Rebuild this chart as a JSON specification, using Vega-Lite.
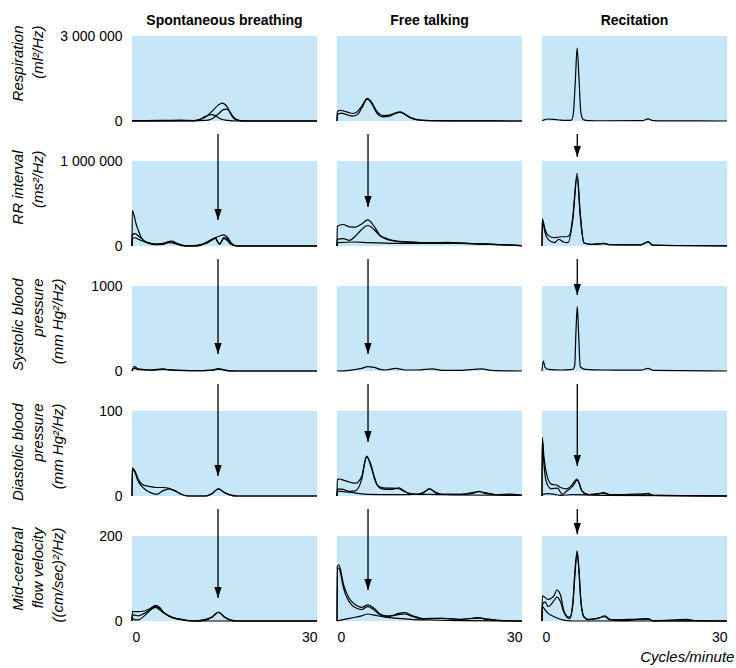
{
"$schema":"https://vega.github.io/schema/vega-lite/v6.json",
"padding":{"top":14,"left":10,"right":5,"bottom":5},
"background":"white",
"datasets":{"d":[
{"k":"b","m":"resp","c":"S","x":0,"x2":30,"y":0,"y2":3000000},
{"k":"b","m":"resp","c":"F","x":0,"x2":30,"y":0,"y2":3000000},
{"k":"b","m":"resp","c":"R","x":0,"x2":30,"y":0,"y2":3000000},
{"k":"b","m":"rr","c":"S","x":0,"x2":30,"y":0,"y2":1000000},
{"k":"b","m":"rr","c":"F","x":0,"x2":30,"y":0,"y2":1000000},
{"k":"b","m":"rr","c":"R","x":0,"x2":30,"y":0,"y2":1000000},
{"k":"b","m":"sys","c":"S","x":0,"x2":30,"y":0,"y2":1000},
{"k":"b","m":"sys","c":"F","x":0,"x2":30,"y":0,"y2":1000},
{"k":"b","m":"sys","c":"R","x":0,"x2":30,"y":0,"y2":1000},
{"k":"b","m":"dia","c":"S","x":0,"x2":30,"y":0,"y2":100},
{"k":"b","m":"dia","c":"F","x":0,"x2":30,"y":0,"y2":100},
{"k":"b","m":"dia","c":"R","x":0,"x2":30,"y":0,"y2":100},
{"k":"b","m":"mca","c":"S","x":0,"x2":30,"y":0,"y2":200},
{"k":"b","m":"mca","c":"F","x":0,"x2":30,"y":0,"y2":200},
{"k":"b","m":"mca","c":"R","x":0,"x2":30,"y":0,"y2":200},
{"k":"a","m":"rr","c":"S","x":13.95,"y":306000,"y2":1317647},
{"k":"a","m":"rr","c":"F","x":5.03,"y":459000,"y2":1317647},
{"k":"a","m":"rr","c":"R","x":5.72,"y":1047000,"y2":1317647},
{"k":"a","m":"sys","c":"S","x":13.95,"y":200,"y2":1317.65},
{"k":"a","m":"sys","c":"F","x":5.03,"y":200,"y2":1317.65},
{"k":"a","m":"sys","c":"R","x":5.72,"y":894,"y2":1317.65},
{"k":"a","m":"dia","c":"S","x":13.95,"y":23.5,"y2":131.765},
{"k":"a","m":"dia","c":"F","x":5.03,"y":63.5,"y2":131.765},
{"k":"a","m":"dia","c":"R","x":5.72,"y":35.3,"y2":131.765},
{"k":"a","m":"mca","c":"S","x":13.95,"y":54,"y2":263.53},
{"k":"a","m":"mca","c":"F","x":5.03,"y":73,"y2":263.53},
{"k":"a","m":"mca","c":"R","x":5.72,"y":205,"y2":263.53},

{"k":"l","m":"resp","c":"S","s":"a","x":0,"y":10000},{"k":"l","m":"resp","c":"S","s":"a","x":2,"y":15000},{"k":"l","m":"resp","c":"S","s":"a","x":5,"y":20000},{"k":"l","m":"resp","c":"S","s":"a","x":8,"y":30000},{"k":"l","m":"resp","c":"S","s":"a","x":9,"y":20000},{"k":"l","m":"resp","c":"S","s":"a","x":10,"y":15000},{"k":"l","m":"resp","c":"S","s":"a","x":11,"y":50000},{"k":"l","m":"resp","c":"S","s":"a","x":12,"y":150000},{"k":"l","m":"resp","c":"S","s":"a","x":13,"y":350000},{"k":"l","m":"resp","c":"S","s":"a","x":14,"y":560000},{"k":"l","m":"resp","c":"S","s":"a","x":14.6,"y":633000},{"k":"l","m":"resp","c":"S","s":"a","x":15,"y":600000},{"k":"l","m":"resp","c":"S","s":"a","x":15.5,"y":470000},{"k":"l","m":"resp","c":"S","s":"a","x":16,"y":250000},{"k":"l","m":"resp","c":"S","s":"a","x":16.5,"y":90000},{"k":"l","m":"resp","c":"S","s":"a","x":17,"y":30000},{"k":"l","m":"resp","c":"S","s":"a","x":18,"y":5000},{"k":"l","m":"resp","c":"S","s":"a","x":20,"y":0},{"k":"l","m":"resp","c":"S","s":"a","x":30,"y":0},
{"k":"l","m":"resp","c":"S","s":"b","x":0,"y":5000},{"k":"l","m":"resp","c":"S","s":"b","x":10,"y":5000},{"k":"l","m":"resp","c":"S","s":"b","x":12,"y":20000},{"k":"l","m":"resp","c":"S","s":"b","x":13,"y":80000},{"k":"l","m":"resp","c":"S","s":"b","x":14,"y":250000},{"k":"l","m":"resp","c":"S","s":"b","x":14.8,"y":400000},{"k":"l","m":"resp","c":"S","s":"b","x":15.3,"y":422000},{"k":"l","m":"resp","c":"S","s":"b","x":15.8,"y":350000},{"k":"l","m":"resp","c":"S","s":"b","x":16.3,"y":180000},{"k":"l","m":"resp","c":"S","s":"b","x":17,"y":50000},{"k":"l","m":"resp","c":"S","s":"b","x":17.5,"y":15000},{"k":"l","m":"resp","c":"S","s":"b","x":18.5,"y":0},{"k":"l","m":"resp","c":"S","s":"b","x":30,"y":0},
{"k":"l","m":"resp","c":"S","s":"c","x":0,"y":5000},{"k":"l","m":"resp","c":"S","s":"c","x":10,"y":10000},{"k":"l","m":"resp","c":"S","s":"c","x":11,"y":60000},{"k":"l","m":"resp","c":"S","s":"c","x":12,"y":170000},{"k":"l","m":"resp","c":"S","s":"c","x":12.9,"y":223000},{"k":"l","m":"resp","c":"S","s":"c","x":13.5,"y":190000},{"k":"l","m":"resp","c":"S","s":"c","x":14,"y":120000},{"k":"l","m":"resp","c":"S","s":"c","x":14.5,"y":60000},{"k":"l","m":"resp","c":"S","s":"c","x":15.5,"y":20000},{"k":"l","m":"resp","c":"S","s":"c","x":17,"y":0},{"k":"l","m":"resp","c":"S","s":"c","x":30,"y":0},

{"k":"l","m":"resp","c":"F","s":"a","x":0,"y":0},{"k":"l","m":"resp","c":"F","s":"a","x":0.05,"y":330000},{"k":"l","m":"resp","c":"F","s":"a","x":0.5,"y":375000},{"k":"l","m":"resp","c":"F","s":"a","x":1,"y":360000},{"k":"l","m":"resp","c":"F","s":"a","x":2,"y":290000},{"k":"l","m":"resp","c":"F","s":"a","x":2.5,"y":265000},{"k":"l","m":"resp","c":"F","s":"a","x":3,"y":290000},{"k":"l","m":"resp","c":"F","s":"a","x":4,"y":520000},{"k":"l","m":"resp","c":"F","s":"a","x":4.9,"y":800000},{"k":"l","m":"resp","c":"F","s":"a","x":5.5,"y":700000},{"k":"l","m":"resp","c":"F","s":"a","x":6.5,"y":330000},{"k":"l","m":"resp","c":"F","s":"a","x":7.5,"y":195000},{"k":"l","m":"resp","c":"F","s":"a","x":8.5,"y":210000},{"k":"l","m":"resp","c":"F","s":"a","x":9.5,"y":290000},{"k":"l","m":"resp","c":"F","s":"a","x":10.2,"y":320000},{"k":"l","m":"resp","c":"F","s":"a","x":11,"y":250000},{"k":"l","m":"resp","c":"F","s":"a","x":12,"y":120000},{"k":"l","m":"resp","c":"F","s":"a","x":13,"y":50000},{"k":"l","m":"resp","c":"F","s":"a","x":15,"y":15000},{"k":"l","m":"resp","c":"F","s":"a","x":20,"y":4000},{"k":"l","m":"resp","c":"F","s":"a","x":30,"y":0},
{"k":"l","m":"resp","c":"F","s":"b","x":0,"y":0},{"k":"l","m":"resp","c":"F","s":"b","x":0.05,"y":220000},{"k":"l","m":"resp","c":"F","s":"b","x":0.7,"y":280000},{"k":"l","m":"resp","c":"F","s":"b","x":1.5,"y":230000},{"k":"l","m":"resp","c":"F","s":"b","x":2.5,"y":170000},{"k":"l","m":"resp","c":"F","s":"b","x":3.3,"y":230000},{"k":"l","m":"resp","c":"F","s":"b","x":4,"y":450000},{"k":"l","m":"resp","c":"F","s":"b","x":4.9,"y":770000},{"k":"l","m":"resp","c":"F","s":"b","x":5.5,"y":660000},{"k":"l","m":"resp","c":"F","s":"b","x":6.5,"y":270000},{"k":"l","m":"resp","c":"F","s":"b","x":7.5,"y":145000},{"k":"l","m":"resp","c":"F","s":"b","x":8.5,"y":170000},{"k":"l","m":"resp","c":"F","s":"b","x":9.5,"y":270000},{"k":"l","m":"resp","c":"F","s":"b","x":10.2,"y":305000},{"k":"l","m":"resp","c":"F","s":"b","x":11,"y":235000},{"k":"l","m":"resp","c":"F","s":"b","x":12,"y":100000},{"k":"l","m":"resp","c":"F","s":"b","x":13,"y":40000},{"k":"l","m":"resp","c":"F","s":"b","x":15,"y":10000},{"k":"l","m":"resp","c":"F","s":"b","x":20,"y":3000},{"k":"l","m":"resp","c":"F","s":"b","x":30,"y":0},

{"k":"l","m":"resp","c":"R","s":"a","x":0,"y":15000},{"k":"l","m":"resp","c":"R","s":"a","x":0.5,"y":50000},{"k":"l","m":"resp","c":"R","s":"a","x":1,"y":70000},{"k":"l","m":"resp","c":"R","s":"a","x":2,"y":55000},{"k":"l","m":"resp","c":"R","s":"a","x":3,"y":30000},{"k":"l","m":"resp","c":"R","s":"a","x":4,"y":20000},{"k":"l","m":"resp","c":"R","s":"a","x":4.8,"y":30000},{"k":"l","m":"resp","c":"R","s":"a","x":5.1,"y":300000},{"k":"l","m":"resp","c":"R","s":"a","x":5.4,"y":1400000},{"k":"l","m":"resp","c":"R","s":"a","x":5.7,"y":2570000},{"k":"l","m":"resp","c":"R","s":"a","x":6,"y":1500000},{"k":"l","m":"resp","c":"R","s":"a","x":6.3,"y":300000},{"k":"l","m":"resp","c":"R","s":"a","x":6.7,"y":50000},{"k":"l","m":"resp","c":"R","s":"a","x":7.5,"y":15000},{"k":"l","m":"resp","c":"R","s":"a","x":10,"y":8000},{"k":"l","m":"resp","c":"R","s":"a","x":16.3,"y":10000},{"k":"l","m":"resp","c":"R","s":"a","x":17.2,"y":75000},{"k":"l","m":"resp","c":"R","s":"a","x":18,"y":10000},{"k":"l","m":"resp","c":"R","s":"a","x":20,"y":3000},{"k":"l","m":"resp","c":"R","s":"a","x":30,"y":0},

{"k":"l","m":"rr","c":"S","s":"a","x":0,"y":0},{"k":"l","m":"rr","c":"S","s":"a","x":0.05,"y":416000},{"k":"l","m":"rr","c":"S","s":"a","x":0.3,"y":370000},{"k":"l","m":"rr","c":"S","s":"a","x":0.7,"y":250000},{"k":"l","m":"rr","c":"S","s":"a","x":1,"y":190000},{"k":"l","m":"rr","c":"S","s":"a","x":1.5,"y":100000},{"k":"l","m":"rr","c":"S","s":"a","x":2,"y":60000},{"k":"l","m":"rr","c":"S","s":"a","x":3,"y":30000},{"k":"l","m":"rr","c":"S","s":"a","x":4,"y":22000},{"k":"l","m":"rr","c":"S","s":"a","x":5,"y":30000},{"k":"l","m":"rr","c":"S","s":"a","x":6,"y":52000},{"k":"l","m":"rr","c":"S","s":"a","x":6.5,"y":58000},{"k":"l","m":"rr","c":"S","s":"a","x":7,"y":42000},{"k":"l","m":"rr","c":"S","s":"a","x":8,"y":12000},{"k":"l","m":"rr","c":"S","s":"a","x":9,"y":2000},{"k":"l","m":"rr","c":"S","s":"a","x":10,"y":0},{"k":"l","m":"rr","c":"S","s":"a","x":11,"y":8000},{"k":"l","m":"rr","c":"S","s":"a","x":12,"y":40000},{"k":"l","m":"rr","c":"S","s":"a","x":13,"y":80000},{"k":"l","m":"rr","c":"S","s":"a","x":14,"y":112000},{"k":"l","m":"rr","c":"S","s":"a","x":14.9,"y":132000},{"k":"l","m":"rr","c":"S","s":"a","x":15.5,"y":100000},{"k":"l","m":"rr","c":"S","s":"a","x":16,"y":45000},{"k":"l","m":"rr","c":"S","s":"a","x":16.5,"y":12000},{"k":"l","m":"rr","c":"S","s":"a","x":17,"y":0},{"k":"l","m":"rr","c":"S","s":"a","x":30,"y":0},
{"k":"l","m":"rr","c":"S","s":"b","x":0,"y":0},{"k":"l","m":"rr","c":"S","s":"b","x":0.05,"y":130000},{"k":"l","m":"rr","c":"S","s":"b","x":0.5,"y":145000},{"k":"l","m":"rr","c":"S","s":"b","x":1,"y":120000},{"k":"l","m":"rr","c":"S","s":"b","x":2,"y":60000},{"k":"l","m":"rr","c":"S","s":"b","x":3,"y":30000},{"k":"l","m":"rr","c":"S","s":"b","x":4,"y":20000},{"k":"l","m":"rr","c":"S","s":"b","x":5,"y":25000},{"k":"l","m":"rr","c":"S","s":"b","x":6,"y":45000},{"k":"l","m":"rr","c":"S","s":"b","x":6.5,"y":50000},{"k":"l","m":"rr","c":"S","s":"b","x":7,"y":35000},{"k":"l","m":"rr","c":"S","s":"b","x":8,"y":10000},{"k":"l","m":"rr","c":"S","s":"b","x":9,"y":0},{"k":"l","m":"rr","c":"S","s":"b","x":11,"y":5000},{"k":"l","m":"rr","c":"S","s":"b","x":12,"y":40000},{"k":"l","m":"rr","c":"S","s":"b","x":13,"y":80000},{"k":"l","m":"rr","c":"S","s":"b","x":13.5,"y":95000},{"k":"l","m":"rr","c":"S","s":"b","x":14.2,"y":25000},{"k":"l","m":"rr","c":"S","s":"b","x":14.9,"y":100000},{"k":"l","m":"rr","c":"S","s":"b","x":15.5,"y":80000},{"k":"l","m":"rr","c":"S","s":"b","x":16,"y":30000},{"k":"l","m":"rr","c":"S","s":"b","x":17,"y":0},{"k":"l","m":"rr","c":"S","s":"b","x":30,"y":0},
{"k":"l","m":"rr","c":"S","s":"c","x":0,"y":0},{"k":"l","m":"rr","c":"S","s":"c","x":0.05,"y":90000},{"k":"l","m":"rr","c":"S","s":"c","x":0.5,"y":97000},{"k":"l","m":"rr","c":"S","s":"c","x":1,"y":80000},{"k":"l","m":"rr","c":"S","s":"c","x":2,"y":50000},{"k":"l","m":"rr","c":"S","s":"c","x":3,"y":25000},{"k":"l","m":"rr","c":"S","s":"c","x":4,"y":15000},{"k":"l","m":"rr","c":"S","s":"c","x":5,"y":20000},{"k":"l","m":"rr","c":"S","s":"c","x":6,"y":38000},{"k":"l","m":"rr","c":"S","s":"c","x":7,"y":28000},{"k":"l","m":"rr","c":"S","s":"c","x":8,"y":5000},{"k":"l","m":"rr","c":"S","s":"c","x":9,"y":0},{"k":"l","m":"rr","c":"S","s":"c","x":12,"y":30000},{"k":"l","m":"rr","c":"S","s":"c","x":13,"y":70000},{"k":"l","m":"rr","c":"S","s":"c","x":13.5,"y":88000},{"k":"l","m":"rr","c":"S","s":"c","x":14.2,"y":20000},{"k":"l","m":"rr","c":"S","s":"c","x":14.9,"y":90000},{"k":"l","m":"rr","c":"S","s":"c","x":15.5,"y":60000},{"k":"l","m":"rr","c":"S","s":"c","x":16,"y":20000},{"k":"l","m":"rr","c":"S","s":"c","x":17,"y":0},{"k":"l","m":"rr","c":"S","s":"c","x":30,"y":0},

{"k":"l","m":"rr","c":"F","s":"a","x":0,"y":0},{"k":"l","m":"rr","c":"F","s":"a","x":0.05,"y":233000},{"k":"l","m":"rr","c":"F","s":"a","x":1,"y":253000},{"k":"l","m":"rr","c":"F","s":"a","x":2,"y":226000},{"k":"l","m":"rr","c":"F","s":"a","x":3,"y":222000},{"k":"l","m":"rr","c":"F","s":"a","x":4,"y":260000},{"k":"l","m":"rr","c":"F","s":"a","x":5,"y":307000},{"k":"l","m":"rr","c":"F","s":"a","x":6,"y":233000},{"k":"l","m":"rr","c":"F","s":"a","x":7,"y":125000},{"k":"l","m":"rr","c":"F","s":"a","x":8,"y":90000},{"k":"l","m":"rr","c":"F","s":"a","x":9,"y":66000},{"k":"l","m":"rr","c":"F","s":"a","x":10,"y":54000},{"k":"l","m":"rr","c":"F","s":"a","x":12,"y":47000},{"k":"l","m":"rr","c":"F","s":"a","x":15,"y":39000},{"k":"l","m":"rr","c":"F","s":"a","x":18,"y":42000},{"k":"l","m":"rr","c":"F","s":"a","x":20,"y":35000},{"k":"l","m":"rr","c":"F","s":"a","x":25,"y":20000},{"k":"l","m":"rr","c":"F","s":"a","x":30,"y":4000},
{"k":"l","m":"rr","c":"F","s":"b","x":0,"y":0},{"k":"l","m":"rr","c":"F","s":"b","x":0.05,"y":78000},{"k":"l","m":"rr","c":"F","s":"b","x":1,"y":86000},{"k":"l","m":"rr","c":"F","s":"b","x":2,"y":66000},{"k":"l","m":"rr","c":"F","s":"b","x":3,"y":117000},{"k":"l","m":"rr","c":"F","s":"b","x":4,"y":195000},{"k":"l","m":"rr","c":"F","s":"b","x":5,"y":241000},{"k":"l","m":"rr","c":"F","s":"b","x":6,"y":195000},{"k":"l","m":"rr","c":"F","s":"b","x":7,"y":117000},{"k":"l","m":"rr","c":"F","s":"b","x":8,"y":80000},{"k":"l","m":"rr","c":"F","s":"b","x":9,"y":62000},{"k":"l","m":"rr","c":"F","s":"b","x":10,"y":52000},{"k":"l","m":"rr","c":"F","s":"b","x":12,"y":45000},{"k":"l","m":"rr","c":"F","s":"b","x":15,"y":37000},{"k":"l","m":"rr","c":"F","s":"b","x":18,"y":40000},{"k":"l","m":"rr","c":"F","s":"b","x":20,"y":33000},{"k":"l","m":"rr","c":"F","s":"b","x":25,"y":18000},{"k":"l","m":"rr","c":"F","s":"b","x":30,"y":3000},
{"k":"l","m":"rr","c":"F","s":"c","x":0,"y":0},{"k":"l","m":"rr","c":"F","s":"c","x":0.05,"y":39000},{"k":"l","m":"rr","c":"F","s":"c","x":3,"y":47000},{"k":"l","m":"rr","c":"F","s":"c","x":5,"y":40000},{"k":"l","m":"rr","c":"F","s":"c","x":10,"y":31000},{"k":"l","m":"rr","c":"F","s":"c","x":20,"y":31000},{"k":"l","m":"rr","c":"F","s":"c","x":30,"y":4000},

{"k":"l","m":"rr","c":"R","s":"a","x":0,"y":0},{"k":"l","m":"rr","c":"R","s":"a","x":0.05,"y":319000},{"k":"l","m":"rr","c":"R","s":"a","x":0.5,"y":195000},{"k":"l","m":"rr","c":"R","s":"a","x":1,"y":125000},{"k":"l","m":"rr","c":"R","s":"a","x":2,"y":97000},{"k":"l","m":"rr","c":"R","s":"a","x":3,"y":109000},{"k":"l","m":"rr","c":"R","s":"a","x":4,"y":109000},{"k":"l","m":"rr","c":"R","s":"a","x":4.5,"y":130000},{"k":"l","m":"rr","c":"R","s":"a","x":5,"y":350000},{"k":"l","m":"rr","c":"R","s":"a","x":5.7,"y":856000},{"k":"l","m":"rr","c":"R","s":"a","x":6.2,"y":389000},{"k":"l","m":"rr","c":"R","s":"a","x":6.8,"y":39000},{"k":"l","m":"rr","c":"R","s":"a","x":8,"y":20000},{"k":"l","m":"rr","c":"R","s":"a","x":10,"y":31000},{"k":"l","m":"rr","c":"R","s":"a","x":11,"y":16000},{"k":"l","m":"rr","c":"R","s":"a","x":13,"y":14000},{"k":"l","m":"rr","c":"R","s":"a","x":16,"y":14000},{"k":"l","m":"rr","c":"R","s":"a","x":17.2,"y":51000},{"k":"l","m":"rr","c":"R","s":"a","x":18,"y":10000},{"k":"l","m":"rr","c":"R","s":"a","x":22,"y":5000},{"k":"l","m":"rr","c":"R","s":"a","x":30,"y":2000},
{"k":"l","m":"rr","c":"R","s":"b","x":0,"y":0},{"k":"l","m":"rr","c":"R","s":"b","x":0.05,"y":292000},{"k":"l","m":"rr","c":"R","s":"b","x":0.5,"y":156000},{"k":"l","m":"rr","c":"R","s":"b","x":1,"y":78000},{"k":"l","m":"rr","c":"R","s":"b","x":2,"y":39000},{"k":"l","m":"rr","c":"R","s":"b","x":2.7,"y":78000},{"k":"l","m":"rr","c":"R","s":"b","x":3.5,"y":47000},{"k":"l","m":"rr","c":"R","s":"b","x":4.2,"y":39000},{"k":"l","m":"rr","c":"R","s":"b","x":5,"y":311000},{"k":"l","m":"rr","c":"R","s":"b","x":5.7,"y":817000},{"k":"l","m":"rr","c":"R","s":"b","x":6.2,"y":350000},{"k":"l","m":"rr","c":"R","s":"b","x":6.8,"y":35000},{"k":"l","m":"rr","c":"R","s":"b","x":8,"y":18000},{"k":"l","m":"rr","c":"R","s":"b","x":10,"y":28000},{"k":"l","m":"rr","c":"R","s":"b","x":11,"y":15000},{"k":"l","m":"rr","c":"R","s":"b","x":16,"y":13000},{"k":"l","m":"rr","c":"R","s":"b","x":17.2,"y":45000},{"k":"l","m":"rr","c":"R","s":"b","x":18,"y":9000},{"k":"l","m":"rr","c":"R","s":"b","x":30,"y":2000},

{"k":"l","m":"sys","c":"S","s":"a","x":0,"y":0},{"k":"l","m":"sys","c":"S","s":"a","x":0.1,"y":25},{"k":"l","m":"sys","c":"S","s":"a","x":0.4,"y":51},{"k":"l","m":"sys","c":"S","s":"a","x":1,"y":25},{"k":"l","m":"sys","c":"S","s":"a","x":3,"y":12},{"k":"l","m":"sys","c":"S","s":"a","x":5,"y":24},{"k":"l","m":"sys","c":"S","s":"a","x":6,"y":14},{"k":"l","m":"sys","c":"S","s":"a","x":8,"y":8},{"k":"l","m":"sys","c":"S","s":"a","x":10,"y":4},{"k":"l","m":"sys","c":"S","s":"a","x":13,"y":10},{"k":"l","m":"sys","c":"S","s":"a","x":14,"y":27},{"k":"l","m":"sys","c":"S","s":"a","x":15,"y":12},{"k":"l","m":"sys","c":"S","s":"a","x":16,"y":2},{"k":"l","m":"sys","c":"S","s":"a","x":18,"y":0},{"k":"l","m":"sys","c":"S","s":"a","x":30,"y":0},
{"k":"l","m":"sys","c":"S","s":"b","x":0,"y":0},{"k":"l","m":"sys","c":"S","s":"b","x":0.1,"y":20},{"k":"l","m":"sys","c":"S","s":"b","x":0.5,"y":30},{"k":"l","m":"sys","c":"S","s":"b","x":1,"y":15},{"k":"l","m":"sys","c":"S","s":"b","x":3,"y":10},{"k":"l","m":"sys","c":"S","s":"b","x":5,"y":18},{"k":"l","m":"sys","c":"S","s":"b","x":7,"y":8},{"k":"l","m":"sys","c":"S","s":"b","x":10,"y":3},{"k":"l","m":"sys","c":"S","s":"b","x":13,"y":8},{"k":"l","m":"sys","c":"S","s":"b","x":14,"y":22},{"k":"l","m":"sys","c":"S","s":"b","x":15,"y":8},{"k":"l","m":"sys","c":"S","s":"b","x":16,"y":0},{"k":"l","m":"sys","c":"S","s":"b","x":30,"y":0},

{"k":"l","m":"sys","c":"F","s":"a","x":0,"y":0},{"k":"l","m":"sys","c":"F","s":"a","x":2,"y":8},{"k":"l","m":"sys","c":"F","s":"a","x":4,"y":31},{"k":"l","m":"sys","c":"F","s":"a","x":5,"y":51},{"k":"l","m":"sys","c":"F","s":"a","x":6,"y":43},{"k":"l","m":"sys","c":"F","s":"a","x":7,"y":20},{"k":"l","m":"sys","c":"F","s":"a","x":8,"y":12},{"k":"l","m":"sys","c":"F","s":"a","x":9.5,"y":31},{"k":"l","m":"sys","c":"F","s":"a","x":11,"y":12},{"k":"l","m":"sys","c":"F","s":"a","x":13,"y":12},{"k":"l","m":"sys","c":"F","s":"a","x":15.5,"y":24},{"k":"l","m":"sys","c":"F","s":"a","x":17,"y":8},{"k":"l","m":"sys","c":"F","s":"a","x":20,"y":8},{"k":"l","m":"sys","c":"F","s":"a","x":23.5,"y":24},{"k":"l","m":"sys","c":"F","s":"a","x":25,"y":8},{"k":"l","m":"sys","c":"F","s":"a","x":30,"y":0},

{"k":"l","m":"sys","c":"R","s":"a","x":0,"y":0},{"k":"l","m":"sys","c":"R","s":"a","x":0.2,"y":118},{"k":"l","m":"sys","c":"R","s":"a","x":0.5,"y":43},{"k":"l","m":"sys","c":"R","s":"a","x":1,"y":20},{"k":"l","m":"sys","c":"R","s":"a","x":3,"y":12},{"k":"l","m":"sys","c":"R","s":"a","x":5,"y":20},{"k":"l","m":"sys","c":"R","s":"a","x":5.3,"y":60},{"k":"l","m":"sys","c":"R","s":"a","x":5.5,"y":450},{"k":"l","m":"sys","c":"R","s":"a","x":5.72,"y":757},{"k":"l","m":"sys","c":"R","s":"a","x":5.95,"y":420},{"k":"l","m":"sys","c":"R","s":"a","x":6.2,"y":50},{"k":"l","m":"sys","c":"R","s":"a","x":7,"y":20},{"k":"l","m":"sys","c":"R","s":"a","x":10,"y":12},{"k":"l","m":"sys","c":"R","s":"a","x":16,"y":10},{"k":"l","m":"sys","c":"R","s":"a","x":17.2,"y":31},{"k":"l","m":"sys","c":"R","s":"a","x":18,"y":8},{"k":"l","m":"sys","c":"R","s":"a","x":30,"y":0},

{"k":"l","m":"dia","c":"S","s":"a","x":0,"y":0},{"k":"l","m":"dia","c":"S","s":"a","x":0.05,"y":33},{"k":"l","m":"dia","c":"S","s":"a","x":0.5,"y":29},{"k":"l","m":"dia","c":"S","s":"a","x":1,"y":20},{"k":"l","m":"dia","c":"S","s":"a","x":2,"y":12.5},{"k":"l","m":"dia","c":"S","s":"a","x":3,"y":11},{"k":"l","m":"dia","c":"S","s":"a","x":4,"y":10},{"k":"l","m":"dia","c":"S","s":"a","x":5,"y":10},{"k":"l","m":"dia","c":"S","s":"a","x":6,"y":9},{"k":"l","m":"dia","c":"S","s":"a","x":7,"y":6},{"k":"l","m":"dia","c":"S","s":"a","x":8,"y":2},{"k":"l","m":"dia","c":"S","s":"a","x":9,"y":0},{"k":"l","m":"dia","c":"S","s":"a","x":12,"y":0},{"k":"l","m":"dia","c":"S","s":"a","x":13,"y":3},{"k":"l","m":"dia","c":"S","s":"a","x":14,"y":8.5},{"k":"l","m":"dia","c":"S","s":"a","x":15,"y":4},{"k":"l","m":"dia","c":"S","s":"a","x":16,"y":1},{"k":"l","m":"dia","c":"S","s":"a","x":17,"y":0},{"k":"l","m":"dia","c":"S","s":"a","x":30,"y":0},
{"k":"l","m":"dia","c":"S","s":"b","x":0,"y":0},{"k":"l","m":"dia","c":"S","s":"b","x":0.05,"y":32},{"k":"l","m":"dia","c":"S","s":"b","x":0.5,"y":27},{"k":"l","m":"dia","c":"S","s":"b","x":1,"y":17.5},{"k":"l","m":"dia","c":"S","s":"b","x":2,"y":8.5},{"k":"l","m":"dia","c":"S","s":"b","x":3,"y":4},{"k":"l","m":"dia","c":"S","s":"b","x":4,"y":2},{"k":"l","m":"dia","c":"S","s":"b","x":5,"y":6},{"k":"l","m":"dia","c":"S","s":"b","x":6,"y":8.5},{"k":"l","m":"dia","c":"S","s":"b","x":7,"y":6},{"k":"l","m":"dia","c":"S","s":"b","x":8,"y":2},{"k":"l","m":"dia","c":"S","s":"b","x":9,"y":0},{"k":"l","m":"dia","c":"S","s":"b","x":12,"y":0},{"k":"l","m":"dia","c":"S","s":"b","x":13,"y":3},{"k":"l","m":"dia","c":"S","s":"b","x":14,"y":8.3},{"k":"l","m":"dia","c":"S","s":"b","x":15,"y":4},{"k":"l","m":"dia","c":"S","s":"b","x":16,"y":1},{"k":"l","m":"dia","c":"S","s":"b","x":17,"y":0},{"k":"l","m":"dia","c":"S","s":"b","x":30,"y":0},

{"k":"l","m":"dia","c":"F","s":"a","x":0,"y":0},{"k":"l","m":"dia","c":"F","s":"a","x":0.05,"y":19.5},{"k":"l","m":"dia","c":"F","s":"a","x":0.5,"y":20},{"k":"l","m":"dia","c":"F","s":"a","x":1,"y":18.7},{"k":"l","m":"dia","c":"F","s":"a","x":2,"y":16.5},{"k":"l","m":"dia","c":"F","s":"a","x":3,"y":15},{"k":"l","m":"dia","c":"F","s":"a","x":4,"y":23},{"k":"l","m":"dia","c":"F","s":"a","x":4.8,"y":47},{"k":"l","m":"dia","c":"F","s":"a","x":5.5,"y":37},{"k":"l","m":"dia","c":"F","s":"a","x":6,"y":24},{"k":"l","m":"dia","c":"F","s":"a","x":6.5,"y":13.6},{"k":"l","m":"dia","c":"F","s":"a","x":7,"y":10.5},{"k":"l","m":"dia","c":"F","s":"a","x":8,"y":9.3},{"k":"l","m":"dia","c":"F","s":"a","x":9,"y":9.3},{"k":"l","m":"dia","c":"F","s":"a","x":10,"y":8.5},{"k":"l","m":"dia","c":"F","s":"a","x":11,"y":5},{"k":"l","m":"dia","c":"F","s":"a","x":12,"y":2.7},{"k":"l","m":"dia","c":"F","s":"a","x":13,"y":2},{"k":"l","m":"dia","c":"F","s":"a","x":14,"y":4},{"k":"l","m":"dia","c":"F","s":"a","x":15,"y":8.5},{"k":"l","m":"dia","c":"F","s":"a","x":16,"y":4},{"k":"l","m":"dia","c":"F","s":"a","x":17,"y":2},{"k":"l","m":"dia","c":"F","s":"a","x":20,"y":2},{"k":"l","m":"dia","c":"F","s":"a","x":22,"y":3},{"k":"l","m":"dia","c":"F","s":"a","x":23,"y":5.4},{"k":"l","m":"dia","c":"F","s":"a","x":24,"y":3},{"k":"l","m":"dia","c":"F","s":"a","x":26,"y":1.5},{"k":"l","m":"dia","c":"F","s":"a","x":28,"y":2.3},{"k":"l","m":"dia","c":"F","s":"a","x":30,"y":0.8},
{"k":"l","m":"dia","c":"F","s":"b","x":0,"y":0},{"k":"l","m":"dia","c":"F","s":"b","x":0.05,"y":8.5},{"k":"l","m":"dia","c":"F","s":"b","x":1,"y":7.8},{"k":"l","m":"dia","c":"F","s":"b","x":2,"y":5.5},{"k":"l","m":"dia","c":"F","s":"b","x":3,"y":6},{"k":"l","m":"dia","c":"F","s":"b","x":4,"y":19.5},{"k":"l","m":"dia","c":"F","s":"b","x":4.8,"y":46},{"k":"l","m":"dia","c":"F","s":"b","x":5.5,"y":35},{"k":"l","m":"dia","c":"F","s":"b","x":6.2,"y":17.5},{"k":"l","m":"dia","c":"F","s":"b","x":7,"y":9.3},{"k":"l","m":"dia","c":"F","s":"b","x":8,"y":7.8},{"k":"l","m":"dia","c":"F","s":"b","x":9,"y":7.8},{"k":"l","m":"dia","c":"F","s":"b","x":10,"y":9.7},{"k":"l","m":"dia","c":"F","s":"b","x":11,"y":5.5},{"k":"l","m":"dia","c":"F","s":"b","x":12,"y":2},{"k":"l","m":"dia","c":"F","s":"b","x":13,"y":2},{"k":"l","m":"dia","c":"F","s":"b","x":14,"y":4},{"k":"l","m":"dia","c":"F","s":"b","x":15,"y":8.3},{"k":"l","m":"dia","c":"F","s":"b","x":16,"y":4},{"k":"l","m":"dia","c":"F","s":"b","x":17,"y":2},{"k":"l","m":"dia","c":"F","s":"b","x":20,"y":2},{"k":"l","m":"dia","c":"F","s":"b","x":23,"y":5},{"k":"l","m":"dia","c":"F","s":"b","x":26,"y":1.5},{"k":"l","m":"dia","c":"F","s":"b","x":30,"y":0.8},
{"k":"l","m":"dia","c":"F","s":"c","x":0,"y":0},{"k":"l","m":"dia","c":"F","s":"c","x":0.05,"y":5.8},{"k":"l","m":"dia","c":"F","s":"c","x":5,"y":2},{"k":"l","m":"dia","c":"F","s":"c","x":10,"y":1.6},{"k":"l","m":"dia","c":"F","s":"c","x":15,"y":2},{"k":"l","m":"dia","c":"F","s":"c","x":20,"y":1.2},{"k":"l","m":"dia","c":"F","s":"c","x":30,"y":0.8},

{"k":"l","m":"dia","c":"R","s":"a","x":0,"y":0},{"k":"l","m":"dia","c":"R","s":"a","x":0.05,"y":69},{"k":"l","m":"dia","c":"R","s":"a","x":0.3,"y":47},{"k":"l","m":"dia","c":"R","s":"a","x":0.6,"y":31},{"k":"l","m":"dia","c":"R","s":"a","x":1,"y":19.5},{"k":"l","m":"dia","c":"R","s":"a","x":1.5,"y":14},{"k":"l","m":"dia","c":"R","s":"a","x":2.5,"y":12.5},{"k":"l","m":"dia","c":"R","s":"a","x":3,"y":10},{"k":"l","m":"dia","c":"R","s":"a","x":4,"y":8.5},{"k":"l","m":"dia","c":"R","s":"a","x":4.7,"y":11.7},{"k":"l","m":"dia","c":"R","s":"a","x":5.7,"y":20},{"k":"l","m":"dia","c":"R","s":"a","x":6.5,"y":5.8},{"k":"l","m":"dia","c":"R","s":"a","x":7.5,"y":1.6},{"k":"l","m":"dia","c":"R","s":"a","x":9,"y":2},{"k":"l","m":"dia","c":"R","s":"a","x":10,"y":4},{"k":"l","m":"dia","c":"R","s":"a","x":11,"y":1.6},{"k":"l","m":"dia","c":"R","s":"a","x":16,"y":1},{"k":"l","m":"dia","c":"R","s":"a","x":17.2,"y":3},{"k":"l","m":"dia","c":"R","s":"a","x":18,"y":0.8},{"k":"l","m":"dia","c":"R","s":"a","x":30,"y":0},
{"k":"l","m":"dia","c":"R","s":"b","x":0,"y":0},{"k":"l","m":"dia","c":"R","s":"b","x":0.05,"y":66},{"k":"l","m":"dia","c":"R","s":"b","x":0.3,"y":39},{"k":"l","m":"dia","c":"R","s":"b","x":0.6,"y":19.5},{"k":"l","m":"dia","c":"R","s":"b","x":1,"y":11.7},{"k":"l","m":"dia","c":"R","s":"b","x":1.5,"y":8.5},{"k":"l","m":"dia","c":"R","s":"b","x":2.5,"y":9.3},{"k":"l","m":"dia","c":"R","s":"b","x":3.3,"y":2},{"k":"l","m":"dia","c":"R","s":"b","x":4,"y":5.8},{"k":"l","m":"dia","c":"R","s":"b","x":5,"y":11.7},{"k":"l","m":"dia","c":"R","s":"b","x":5.7,"y":18.7},{"k":"l","m":"dia","c":"R","s":"b","x":6.5,"y":5.8},{"k":"l","m":"dia","c":"R","s":"b","x":7.5,"y":1.6},{"k":"l","m":"dia","c":"R","s":"b","x":10,"y":3.5},{"k":"l","m":"dia","c":"R","s":"b","x":11,"y":1.4},{"k":"l","m":"dia","c":"R","s":"b","x":17.2,"y":2.5},{"k":"l","m":"dia","c":"R","s":"b","x":18,"y":0.8},{"k":"l","m":"dia","c":"R","s":"b","x":30,"y":0},
{"k":"l","m":"dia","c":"R","s":"c","x":0,"y":0},{"k":"l","m":"dia","c":"R","s":"c","x":0.05,"y":2},{"k":"l","m":"dia","c":"R","s":"c","x":1,"y":2.7},{"k":"l","m":"dia","c":"R","s":"c","x":2,"y":2},{"k":"l","m":"dia","c":"R","s":"c","x":3,"y":0.8},{"k":"l","m":"dia","c":"R","s":"c","x":5,"y":1.6},{"k":"l","m":"dia","c":"R","s":"c","x":10,"y":0.8},{"k":"l","m":"dia","c":"R","s":"c","x":30,"y":0},

{"k":"l","m":"mca","c":"S","s":"a","x":0,"y":0},{"k":"l","m":"mca","c":"S","s":"a","x":0.05,"y":22},{"k":"l","m":"mca","c":"S","s":"a","x":1,"y":22},{"k":"l","m":"mca","c":"S","s":"a","x":2,"y":23.5},{"k":"l","m":"mca","c":"S","s":"a","x":3,"y":30},{"k":"l","m":"mca","c":"S","s":"a","x":3.8,"y":37},{"k":"l","m":"mca","c":"S","s":"a","x":4.5,"y":32},{"k":"l","m":"mca","c":"S","s":"a","x":5,"y":22},{"k":"l","m":"mca","c":"S","s":"a","x":6,"y":12},{"k":"l","m":"mca","c":"S","s":"a","x":7,"y":6},{"k":"l","m":"mca","c":"S","s":"a","x":8,"y":4},{"k":"l","m":"mca","c":"S","s":"a","x":9,"y":1},{"k":"l","m":"mca","c":"S","s":"a","x":10,"y":0},{"k":"l","m":"mca","c":"S","s":"a","x":12,"y":2},{"k":"l","m":"mca","c":"S","s":"a","x":13,"y":10},{"k":"l","m":"mca","c":"S","s":"a","x":14,"y":21},{"k":"l","m":"mca","c":"S","s":"a","x":15,"y":10},{"k":"l","m":"mca","c":"S","s":"a","x":16,"y":2},{"k":"l","m":"mca","c":"S","s":"a","x":17,"y":0},{"k":"l","m":"mca","c":"S","s":"a","x":30,"y":0},
{"k":"l","m":"mca","c":"S","s":"b","x":0,"y":0},{"k":"l","m":"mca","c":"S","s":"b","x":0.05,"y":14},{"k":"l","m":"mca","c":"S","s":"b","x":0.5,"y":14},{"k":"l","m":"mca","c":"S","s":"b","x":1,"y":12},{"k":"l","m":"mca","c":"S","s":"b","x":2,"y":18},{"k":"l","m":"mca","c":"S","s":"b","x":3,"y":27},{"k":"l","m":"mca","c":"S","s":"b","x":3.8,"y":34},{"k":"l","m":"mca","c":"S","s":"b","x":4.5,"y":30},{"k":"l","m":"mca","c":"S","s":"b","x":5,"y":22},{"k":"l","m":"mca","c":"S","s":"b","x":6,"y":12},{"k":"l","m":"mca","c":"S","s":"b","x":7,"y":6},{"k":"l","m":"mca","c":"S","s":"b","x":8,"y":4},{"k":"l","m":"mca","c":"S","s":"b","x":10,"y":0},{"k":"l","m":"mca","c":"S","s":"b","x":13,"y":9},{"k":"l","m":"mca","c":"S","s":"b","x":14,"y":20},{"k":"l","m":"mca","c":"S","s":"b","x":15,"y":9},{"k":"l","m":"mca","c":"S","s":"b","x":16,"y":2},{"k":"l","m":"mca","c":"S","s":"b","x":17,"y":0},{"k":"l","m":"mca","c":"S","s":"b","x":30,"y":0},
{"k":"l","m":"mca","c":"S","s":"c","x":0,"y":0},{"k":"l","m":"mca","c":"S","s":"c","x":0.05,"y":6},{"k":"l","m":"mca","c":"S","s":"c","x":0.5,"y":2.5},{"k":"l","m":"mca","c":"S","s":"c","x":1,"y":2.5},{"k":"l","m":"mca","c":"S","s":"c","x":2,"y":12},{"k":"l","m":"mca","c":"S","s":"c","x":3,"y":26},{"k":"l","m":"mca","c":"S","s":"c","x":3.8,"y":32},{"k":"l","m":"mca","c":"S","s":"c","x":5,"y":20},{"k":"l","m":"mca","c":"S","s":"c","x":6,"y":11},{"k":"l","m":"mca","c":"S","s":"c","x":8,"y":3},{"k":"l","m":"mca","c":"S","s":"c","x":10,"y":0},{"k":"l","m":"mca","c":"S","s":"c","x":30,"y":0},

{"k":"l","m":"mca","c":"F","s":"a","x":0,"y":0},{"k":"l","m":"mca","c":"F","s":"a","x":0.05,"y":128},{"k":"l","m":"mca","c":"F","s":"a","x":0.3,"y":132},{"k":"l","m":"mca","c":"F","s":"a","x":0.7,"y":112},{"k":"l","m":"mca","c":"F","s":"a","x":1,"y":89},{"k":"l","m":"mca","c":"F","s":"a","x":1.5,"y":68},{"k":"l","m":"mca","c":"F","s":"a","x":2,"y":53},{"k":"l","m":"mca","c":"F","s":"a","x":3,"y":38},{"k":"l","m":"mca","c":"F","s":"a","x":4,"y":32},{"k":"l","m":"mca","c":"F","s":"a","x":5,"y":38},{"k":"l","m":"mca","c":"F","s":"a","x":6,"y":30},{"k":"l","m":"mca","c":"F","s":"a","x":7,"y":16.5},{"k":"l","m":"mca","c":"F","s":"a","x":8,"y":12},{"k":"l","m":"mca","c":"F","s":"a","x":9,"y":13},{"k":"l","m":"mca","c":"F","s":"a","x":10,"y":18},{"k":"l","m":"mca","c":"F","s":"a","x":11,"y":19.6},{"k":"l","m":"mca","c":"F","s":"a","x":12,"y":14},{"k":"l","m":"mca","c":"F","s":"a","x":13,"y":9},{"k":"l","m":"mca","c":"F","s":"a","x":14,"y":5.5},{"k":"l","m":"mca","c":"F","s":"a","x":15,"y":6.3},{"k":"l","m":"mca","c":"F","s":"a","x":17,"y":6.3},{"k":"l","m":"mca","c":"F","s":"a","x":18,"y":5.5},{"k":"l","m":"mca","c":"F","s":"a","x":20,"y":4},{"k":"l","m":"mca","c":"F","s":"a","x":23,"y":7.8},{"k":"l","m":"mca","c":"F","s":"a","x":24,"y":4},{"k":"l","m":"mca","c":"F","s":"a","x":26,"y":1.6},{"k":"l","m":"mca","c":"F","s":"a","x":30,"y":0},
{"k":"l","m":"mca","c":"F","s":"b","x":0,"y":0},{"k":"l","m":"mca","c":"F","s":"b","x":0.05,"y":124},{"k":"l","m":"mca","c":"F","s":"b","x":0.3,"y":124},{"k":"l","m":"mca","c":"F","s":"b","x":0.7,"y":104},{"k":"l","m":"mca","c":"F","s":"b","x":1,"y":81},{"k":"l","m":"mca","c":"F","s":"b","x":2,"y":45},{"k":"l","m":"mca","c":"F","s":"b","x":3,"y":31},{"k":"l","m":"mca","c":"F","s":"b","x":4,"y":27},{"k":"l","m":"mca","c":"F","s":"b","x":5,"y":34},{"k":"l","m":"mca","c":"F","s":"b","x":6,"y":26},{"k":"l","m":"mca","c":"F","s":"b","x":7,"y":14},{"k":"l","m":"mca","c":"F","s":"b","x":8,"y":10},{"k":"l","m":"mca","c":"F","s":"b","x":10,"y":15},{"k":"l","m":"mca","c":"F","s":"b","x":11,"y":16.5},{"k":"l","m":"mca","c":"F","s":"b","x":12,"y":12},{"k":"l","m":"mca","c":"F","s":"b","x":14,"y":5},{"k":"l","m":"mca","c":"F","s":"b","x":17,"y":6},{"k":"l","m":"mca","c":"F","s":"b","x":20,"y":3.5},{"k":"l","m":"mca","c":"F","s":"b","x":23,"y":7},{"k":"l","m":"mca","c":"F","s":"b","x":26,"y":1.5},{"k":"l","m":"mca","c":"F","s":"b","x":30,"y":0},
{"k":"l","m":"mca","c":"F","s":"c","x":0,"y":0},{"k":"l","m":"mca","c":"F","s":"c","x":2,"y":6.3},{"k":"l","m":"mca","c":"F","s":"c","x":4,"y":12},{"k":"l","m":"mca","c":"F","s":"c","x":5,"y":16.5},{"k":"l","m":"mca","c":"F","s":"c","x":6,"y":14},{"k":"l","m":"mca","c":"F","s":"c","x":8,"y":8.6},{"k":"l","m":"mca","c":"F","s":"c","x":10,"y":6.3},{"k":"l","m":"mca","c":"F","s":"c","x":12,"y":3.9},{"k":"l","m":"mca","c":"F","s":"c","x":15,"y":2.4},{"k":"l","m":"mca","c":"F","s":"c","x":20,"y":0.8},{"k":"l","m":"mca","c":"F","s":"c","x":30,"y":0},

{"k":"l","m":"mca","c":"R","s":"a","x":0,"y":0},{"k":"l","m":"mca","c":"R","s":"a","x":0.05,"y":59},{"k":"l","m":"mca","c":"R","s":"a","x":1,"y":51},{"k":"l","m":"mca","c":"R","s":"a","x":2,"y":61},{"k":"l","m":"mca","c":"R","s":"a","x":2.4,"y":73},{"k":"l","m":"mca","c":"R","s":"a","x":3,"y":61},{"k":"l","m":"mca","c":"R","s":"a","x":3.5,"y":26},{"k":"l","m":"mca","c":"R","s":"a","x":4,"y":12},{"k":"l","m":"mca","c":"R","s":"a","x":4.5,"y":9},{"k":"l","m":"mca","c":"R","s":"a","x":5,"y":42},{"k":"l","m":"mca","c":"R","s":"a","x":5.3,"y":110},{"k":"l","m":"mca","c":"R","s":"a","x":5.7,"y":165},{"k":"l","m":"mca","c":"R","s":"a","x":6,"y":120},{"k":"l","m":"mca","c":"R","s":"a","x":6.3,"y":50},{"k":"l","m":"mca","c":"R","s":"a","x":6.8,"y":10},{"k":"l","m":"mca","c":"R","s":"a","x":7.5,"y":4},{"k":"l","m":"mca","c":"R","s":"a","x":9,"y":5.5},{"k":"l","m":"mca","c":"R","s":"a","x":10.2,"y":12},{"k":"l","m":"mca","c":"R","s":"a","x":11,"y":4},{"k":"l","m":"mca","c":"R","s":"a","x":13,"y":0.8},{"k":"l","m":"mca","c":"R","s":"a","x":17.2,"y":5.5},{"k":"l","m":"mca","c":"R","s":"a","x":18,"y":0.8},{"k":"l","m":"mca","c":"R","s":"a","x":23.5,"y":4},{"k":"l","m":"mca","c":"R","s":"a","x":25,"y":0.8},{"k":"l","m":"mca","c":"R","s":"a","x":30,"y":0},
{"k":"l","m":"mca","c":"R","s":"b","x":0,"y":0},{"k":"l","m":"mca","c":"R","s":"b","x":0.05,"y":38},{"k":"l","m":"mca","c":"R","s":"b","x":0.5,"y":45},{"k":"l","m":"mca","c":"R","s":"b","x":1,"y":34},{"k":"l","m":"mca","c":"R","s":"b","x":2,"y":49},{"k":"l","m":"mca","c":"R","s":"b","x":2.4,"y":56},{"k":"l","m":"mca","c":"R","s":"b","x":3,"y":45},{"k":"l","m":"mca","c":"R","s":"b","x":3.5,"y":22},{"k":"l","m":"mca","c":"R","s":"b","x":4,"y":9},{"k":"l","m":"mca","c":"R","s":"b","x":4.5,"y":5.5},{"k":"l","m":"mca","c":"R","s":"b","x":5,"y":38},{"k":"l","m":"mca","c":"R","s":"b","x":5.3,"y":100},{"k":"l","m":"mca","c":"R","s":"b","x":5.7,"y":159},{"k":"l","m":"mca","c":"R","s":"b","x":6,"y":115},{"k":"l","m":"mca","c":"R","s":"b","x":6.3,"y":45},{"k":"l","m":"mca","c":"R","s":"b","x":6.8,"y":9},{"k":"l","m":"mca","c":"R","s":"b","x":7.5,"y":3},{"k":"l","m":"mca","c":"R","s":"b","x":10.2,"y":10},{"k":"l","m":"mca","c":"R","s":"b","x":11,"y":3},{"k":"l","m":"mca","c":"R","s":"b","x":17.2,"y":4.5},{"k":"l","m":"mca","c":"R","s":"b","x":18,"y":0.5},{"k":"l","m":"mca","c":"R","s":"b","x":30,"y":0},
{"k":"l","m":"mca","c":"R","s":"c","x":0,"y":0},{"k":"l","m":"mca","c":"R","s":"c","x":0.05,"y":34},{"k":"l","m":"mca","c":"R","s":"c","x":0.5,"y":26},{"k":"l","m":"mca","c":"R","s":"c","x":1,"y":18},{"k":"l","m":"mca","c":"R","s":"c","x":2,"y":10},{"k":"l","m":"mca","c":"R","s":"c","x":3,"y":4},{"k":"l","m":"mca","c":"R","s":"c","x":4,"y":0.8},{"k":"l","m":"mca","c":"R","s":"c","x":5,"y":0},{"k":"l","m":"mca","c":"R","s":"c","x":30,"y":0}
]},
"data":{"name":"d"},
"vconcat":[
{"transform":[{"filter":"datum.m=='resp'"}],
 "facet":{"column":{"field":"c","type":"nominal","sort":["S","F","R"],"header":{"title":null,"labelExpr":"datum.value=='S'?'Spontaneous breathing':datum.value=='F'?'Free talking':'Recitation'","labelFontSize":14,"labelFontWeight":"bold","labelColor":"#000","labelFont":"Liberation Sans","labelPadding":8}}},
 "spacing":14,
 "spec":{"width":185,"height":85,
  "encoding":{"x":{"field":"x","type":"quantitative","scale":{"domain":[0,30],"nice":false},"axis":{"values":[0,30],"labels":false,"title":null}},
   "y":{"field":"y","type":"quantitative","scale":{"domain":[0,3000000],"nice":false,"zero":true},"axis":{"values":[0,3000000],"labelExpr":"datum.value==0?'0':'3 000 000'","title":["Respiration","(ml²/Hz)"],"titleX":-119,"titleY":-11,"titleAngle":270,"titleAlign":"right","titleBaseline":"top"}}},
  "layer":[
   {"transform":[{"filter":"datum.k=='b'"}],"mark":{"type":"rect","color":"#c6e7f8"},"encoding":{"x2":{"field":"x2"},"y2":{"field":"y2"}}},
   {"transform":[{"filter":"datum.k=='l'"}],"mark":{"type":"line","color":"#000","strokeWidth":1.2,"interpolate":"monotone"},"encoding":{"detail":{"field":"s"}}}
  ]}},
{"transform":[{"filter":"datum.m=='rr'"}],
 "facet":{"column":{"field":"c","type":"nominal","sort":["S","F","R"],"header":{"title":null,"labels":false}}},
 "spacing":14,
 "spec":{"width":185,"height":112,
  "encoding":{"x":{"field":"x","type":"quantitative","scale":{"domain":[0,30],"nice":false},"axis":{"values":[0,30],"labels":false,"title":null}},
   "y":{"field":"y","type":"quantitative","scale":{"domain":[0,1317647],"nice":false,"zero":true},"axis":{"values":[0,1000000],"labelExpr":"datum.value==0?'0':'1 000 000'","title":["RR interval","(ms²/Hz)"],"titleX":-119,"titleY":16,"titleAngle":270,"titleAlign":"right","titleBaseline":"top"}}},
  "layer":[
   {"transform":[{"filter":"datum.k=='b'"}],"mark":{"type":"rect","color":"#c6e7f8"},"encoding":{"x2":{"field":"x2"},"y2":{"field":"y2"}}},
   {"transform":[{"filter":"datum.k=='l'"}],"mark":{"type":"line","color":"#000","strokeWidth":1.2,"interpolate":"monotone"},"encoding":{"detail":{"field":"s"}}},
   {"transform":[{"filter":"datum.k=='a'"}],"mark":{"type":"rule","color":"#000","strokeWidth":1.3},"encoding":{"y2":{"field":"y2"}}},
   {"transform":[{"filter":"datum.k=='a'"}],"mark":{"type":"point","shape":"M-0.33,-1L0.33,-1L0,0Z","size":484,"filled":true,"color":"#000","opacity":1},"encoding":{}}
  ]}},
{"transform":[{"filter":"datum.m=='sys'"}],
 "facet":{"column":{"field":"c","type":"nominal","sort":["S","F","R"],"header":{"title":null,"labels":false}}},
 "spacing":14,
 "spec":{"width":185,"height":112,
  "encoding":{"x":{"field":"x","type":"quantitative","scale":{"domain":[0,30],"nice":false},"axis":{"values":[0,30],"labels":false,"title":null}},
   "y":{"field":"y","type":"quantitative","scale":{"domain":[0,1317.65],"nice":false,"zero":true},"axis":{"values":[0,1000],"format":"d","title":["Systolic blood","pressure","(mm Hg²/Hz)"],"titleX":-119,"titleY":19,"titleAngle":270,"titleAlign":"right","titleBaseline":"top"}}},
  "layer":[
   {"transform":[{"filter":"datum.k=='b'"}],"mark":{"type":"rect","color":"#c6e7f8"},"encoding":{"x2":{"field":"x2"},"y2":{"field":"y2"}}},
   {"transform":[{"filter":"datum.k=='l'"}],"mark":{"type":"line","color":"#000","strokeWidth":1.2,"interpolate":"monotone"},"encoding":{"detail":{"field":"s"}}},
   {"transform":[{"filter":"datum.k=='a'"}],"mark":{"type":"rule","color":"#000","strokeWidth":1.3},"encoding":{"y2":{"field":"y2"}}},
   {"transform":[{"filter":"datum.k=='a'"}],"mark":{"type":"point","shape":"M-0.33,-1L0.33,-1L0,0Z","size":484,"filled":true,"color":"#000","opacity":1},"encoding":{}}
  ]}},
{"transform":[{"filter":"datum.m=='dia'"}],
 "facet":{"column":{"field":"c","type":"nominal","sort":["S","F","R"],"header":{"title":null,"labels":false}}},
 "spacing":14,
 "spec":{"width":185,"height":112,
  "encoding":{"x":{"field":"x","type":"quantitative","scale":{"domain":[0,30],"nice":false},"axis":{"values":[0,30],"labels":false,"title":null}},
   "y":{"field":"y","type":"quantitative","scale":{"domain":[0,131.765],"nice":false,"zero":true},"axis":{"values":[0,100],"format":"d","title":["Diastolic blood","pressure","(mm Hg²/Hz)"],"titleX":-119,"titleY":19,"titleAngle":270,"titleAlign":"right","titleBaseline":"top"}}},
  "layer":[
   {"transform":[{"filter":"datum.k=='b'"}],"mark":{"type":"rect","color":"#c6e7f8"},"encoding":{"x2":{"field":"x2"},"y2":{"field":"y2"}}},
   {"transform":[{"filter":"datum.k=='l'"}],"mark":{"type":"line","color":"#000","strokeWidth":1.2,"interpolate":"monotone"},"encoding":{"detail":{"field":"s"}}},
   {"transform":[{"filter":"datum.k=='a'"}],"mark":{"type":"rule","color":"#000","strokeWidth":1.3},"encoding":{"y2":{"field":"y2"}}},
   {"transform":[{"filter":"datum.k=='a'"}],"mark":{"type":"point","shape":"M-0.33,-1L0.33,-1L0,0Z","size":484,"filled":true,"color":"#000","opacity":1},"encoding":{}}
  ]}},
{"transform":[{"filter":"datum.m=='mca'"}],
 "title":{"text":"Cycles/minute","orient":"bottom","anchor":"end","fontStyle":"italic","fontWeight":"normal","fontSize":15,"color":"#000","font":"Liberation Sans","offset":6,"dx":5},
 "facet":{"column":{"field":"c","type":"nominal","sort":["S","F","R"],"header":{"title":null,"labels":false}}},
 "spacing":14,
 "spec":{"width":185,"height":112,
  "encoding":{"x":{"field":"x","type":"quantitative","scale":{"domain":[0,30],"nice":false},"axis":{"values":[0,30],"labels":true,"title":null}},
   "y":{"field":"y","type":"quantitative","scale":{"domain":[0,263.53],"nice":false,"zero":true},"axis":{"values":[0,200],"format":"d","title":["Mid-cerebral","flow velocity","((cm/sec)²/Hz)"],"titleX":-119,"titleY":18,"titleAngle":270,"titleAlign":"right","titleBaseline":"top"}}},
  "layer":[
   {"transform":[{"filter":"datum.k=='b'"}],"mark":{"type":"rect","color":"#c6e7f8"},"encoding":{"x2":{"field":"x2"},"y2":{"field":"y2"}}},
   {"transform":[{"filter":"datum.k=='l'"}],"mark":{"type":"line","color":"#000","strokeWidth":1.2,"interpolate":"monotone"},"encoding":{"detail":{"field":"s"}}},
   {"transform":[{"filter":"datum.k=='a'"}],"mark":{"type":"rule","color":"#000","strokeWidth":1.3},"encoding":{"y2":{"field":"y2"}}},
   {"transform":[{"filter":"datum.k=='a'"}],"mark":{"type":"point","shape":"M-0.33,-1L0.33,-1L0,0Z","size":484,"filled":true,"color":"#000","opacity":1},"encoding":{}}
  ]}}
],
"spacing":5,
"config":{
 "font":"Liberation Sans",
 "view":{"stroke":null},
 "axis":{"labelFont":"Liberation Sans","labelFontSize":14,"labelColor":"#000","ticks":false,"grid":false,"domain":false,"titleColor":"#000","titleFont":"Liberation Sans"},
 "axisX":{"domain":false,"labelPadding":6},
 "axisY":{"labelPadding":7,"titleFontStyle":"italic","titleFontWeight":"normal","titleFontSize":15,"titleLineHeight":20}
}
}
